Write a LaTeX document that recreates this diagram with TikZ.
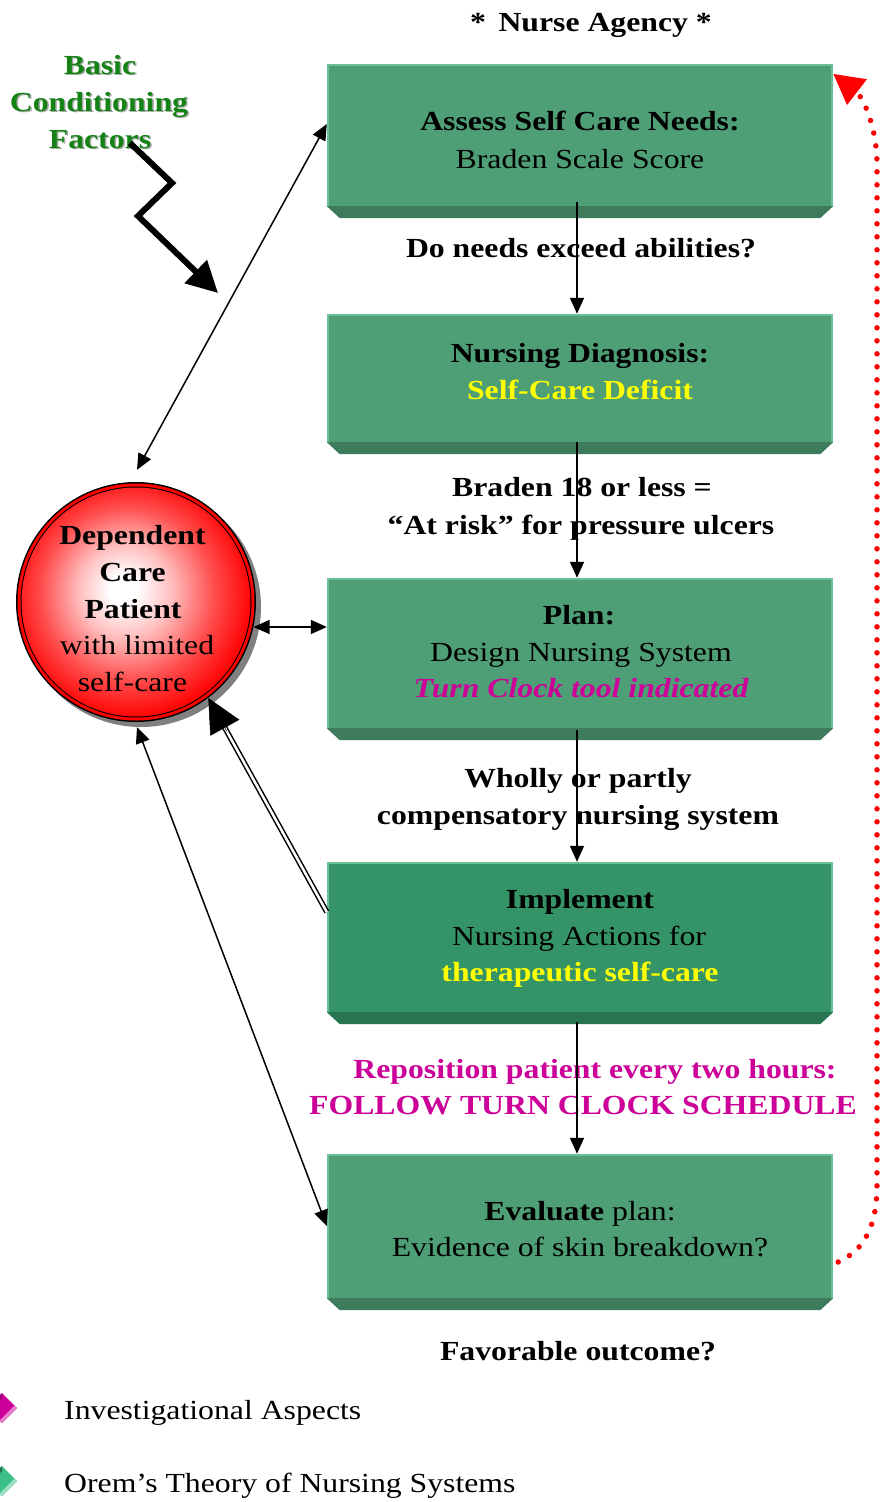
\documentclass[tikz,border=0pt]{standalone}
\usepackage{fontspec}
\setmainfont{Liberation Serif}[FakeStretch=1.15]
\usetikzlibrary{arrows.meta,calc}
\definecolor{faceA}{RGB}{78,158,118}
\definecolor{faceB}{RGB}{52,148,103}
\definecolor{bevA}{RGB}{62,122,92}
\definecolor{bevB}{RGB}{40,116,80}
\definecolor{edgeC}{RGB}{108,192,150}
\definecolor{mag}{RGB}{204,0,153}
\definecolor{yel}{RGB}{255,255,0}
\definecolor{grn}{RGB}{20,130,20}
\definecolor{ringred}{RGB}{255,0,0}
\definecolor{shd}{RGB}{128,128,128}
\definecolor{tshd}{RGB}{170,170,170}
\definecolor{legG}{RGB}{60,190,135}
\pgfdeclareradialshading{redball}{\pgfpoint{-3bp}{3bp}}{color(0bp)=(white); color(3bp)=(white); color(10bp)=(red!25!white); color(19bp)=(red!70!white); color(27bp)=(red); color(50bp)=(red)}
\newcommand\fs{\fontsize{27.6pt}{37pt}\selectfont}
\newcommand\mybevel[2]{%
  \fill[#2] (#1.south west) -- (#1.south east) -- ++(-13,12) -- ($(#1.south west)+(13,12)$) -- cycle;
  \draw[edgeC, line width=2pt] ($(#1.south west)+(1,0)$) -- ($(#1.north west)+(1,1)$) -- ($(#1.north east)+(-1.5,1)$) -- ($(#1.south east)+(-1.5,0)$);}
\begin{document}
\begin{tikzpicture}[x=1pt,y=-1pt,
  gface/.style={fill=faceA, minimum width=506pt, inner sep=0pt, draw=none},
  tx/.style={font=\fs, inner sep=0pt, anchor=base},
  tb/.style={tx, font=\fs\bfseries},
  arr/.style={line width=1.5pt, -{Triangle[length=16pt,width=14pt]}},
  darr/.style={line width=1.5pt, {Triangle[length=16pt,width=14pt]}-{Triangle[length=16pt,width=14pt]}},
  dbl/.style={double, line width=1.5pt, double distance=2.5pt}]
\useasboundingbox (0,0) rectangle (879,1502);
\fill[white] (0,0) rectangle (879,1502);

% boxes
\node[gface, minimum height=142pt] (b1) at (580,135) {};
\node[gface, minimum height=128pt] (b2) at (580,378) {};
\node[gface, minimum height=150pt] (b3) at (580,653) {};
\node[gface, minimum height=150pt, fill=faceB] (b4) at (580,937) {};
\node[gface, minimum height=144pt] (b5) at (580,1226) {};
\mybevel{b1}{bevA}
\mybevel{b2}{bevA}
\mybevel{b3}{bevA}
\mybevel{b4}{bevB}
\mybevel{b5}{bevA}

% circle
\node[circle, minimum size=240pt, inner sep=0pt] (c) at (136,602) {};
\fill[shd] ($(c.center)+(5,5)$) circle[radius=120pt];
\fill[black] (c.center) circle[radius=120pt];
\fill[ringred] (c.center) circle[radius=118.5pt];
\fill[black] (c.center) circle[radius=115.5pt];
\shade[shading=redball] (c.center) circle[radius=114.5pt];

% texts
\node[tb] (na) at (591,31) {*\, Nurse Agency *};
\node[tb, text=tshd] (bs1) at (101.5,75.5) {Basic};
\node[tb, text=tshd] (bs2) at (100.5,112.5) {Conditioning};
\node[tb, text=tshd] (bs3) at (101.5,149.5) {Factors};
\node[tb, text=grn] (bc1) at (100,74) {Basic};
\node[tb, text=grn] (bc2) at (99,111) {Conditioning};
\node[tb, text=grn] (bc3) at (100,148) {Factors};

\node[tb] (t1a) at (580,130) {Assess Self Care Needs:};
\node[tx] (t1b) at (580,168) {Braden Scale Score};
\node[tb] (q1) at (581,257) {Do needs exceed abilities?};
\node[tb] (t2a) at (580,362) {Nursing Diagnosis:};
\node[tb, text=yel] (t2b) at (580,399) {Self-Care Deficit};
\node[tb] (q2a) at (582,496) {Braden 18 or less =};
\node[tb] (q2b) at (581,534) {“At risk” for pressure ulcers};
\node[tb] (t3a) at (579,624) {Plan:};
\node[tx] (t3b) at (581,661) {Design Nursing System};
\node[tx, font=\fs\bfseries\itshape, text=mag] (t3c) at (581,697) {Turn Clock tool indicated};
\node[tb] (q3a) at (578,787) {Wholly or partly};
\node[tb] (q3b) at (578,824) {compensatory nursing system};
\node[tb] (t4a) at (580,908) {Implement};
\node[tx] (t4b) at (579,945) {Nursing Actions for};
\node[tb, text=yel] (t4c) at (580,981) {therapeutic self-care};
\node[tb, text=mag] (q4a) at (595,1078) {Reposition patient every two hours:};
\node[tb, text=mag] (q4b) at (583,1114) {FOLLOW TURN CLOCK SCHEDULE};
\node[tx] (t5a) at (580,1220) {\textbf{Evaluate} plan:};
\node[tx] (t5b) at (580,1256) {Evidence of skin breakdown?};
\node[tb] (q5) at (578,1360) {Favorable outcome?};

\node[tb] (c1) at (132.5,544) {Dependent};
\node[tb] (c2) at (132.5,581) {Care};
\node[tb] (c3) at (133,618) {Patient};
\node[tx] (c4) at (137,654) {with limited};
\node[tx] (c5) at (132.5,691) {self-care};

% vertical arrows
\draw[arr] ($(b1.south)+(-3,-4)$) -- ($(b2.north)+(-3,0)$);
\draw[arr] ($(b2.south)+(-3,0)$) -- ($(b3.north)+(-3,0)$);
\draw[arr] ($(b3.south)+(-3,2)$) -- ($(b4.north)+(-3,0)$);
\draw[arr] ($(b4.south)+(-3,10)$) -- ($(b5.north)+(-3,0)$);

% circle connectors
\coordinate (cn) at ($(c.north)+(1,-12)$);
\draw[darr] (cn) -- ($(b1.west)+(0,-11)$);
\draw[darr] (c.-12) -- (b3.west |- c.-12);
\draw[darr] ($(c.south)+(1,5)$) -- (b5.west);
\coordinate (dt) at (c.-53);
\coordinate (ds) at ($(b4.west)+(0,-25)$);
\draw[dbl, shorten >=30pt] (ds) -- (dt);
\draw[line width=0.5pt, -{Triangle[length=34pt,width=33pt]}] ($(dt)!38pt!(ds)$) -- (dt);

% zigzag
\coordinate (z0) at (130,143);
\coordinate (z1) at (172,183);
\coordinate (z2) at (138,216);
\coordinate (z3) at (218,293);
\draw[line width=6pt, line join=miter, -{Triangle[length=31pt,width=31pt]}] (z0) -- (z1) -- (z2) -- (z3);

% red dotted feedback
\coordinate (r0) at ($(b5.east)+(5,36)$);
\coordinate (r1) at ($(b1.north east)+(0,10)$);
\draw[ringred, line width=5.5pt, line cap=round, dash pattern=on 0pt off 13pt, -{Triangle[length=30pt,width=31pt]}] (r0) .. controls (865,1250) and (877,1225) .. (877,1185) -- (877,165) .. controls (877,125) and (862,96) .. (r1);

% legend
\fill[mag] (2,1393) -- (17,1408) -- (2,1423) -- (-13,1408) -- cycle;
\fill[mag!50!white] (17,1408) -- (2,1423) -- (-0.5,1420.5) -- (14.5,1405.5) -- cycle;
\fill[mag!75!black] (2,1393) -- (-13,1408) -- (-10.5,1410.5) -- (2,1398) -- cycle;
\fill[legG] (2,1466) -- (17,1481) -- (2,1496) -- (-13,1481) -- cycle;
\fill[legG!50!white] (17,1481) -- (2,1496) -- (-0.5,1493.5) -- (14.5,1478.5) -- cycle;
\fill[legG!60!black] (2,1466) -- (-13,1481) -- (-10.5,1483.5) -- (2,1471) -- cycle;
\node[tx, anchor=base west] (l1) at (64,1419) {Investigational Aspects};
\node[tx, anchor=base west] (l2) at (64,1492) {Orem’s Theory of Nursing Systems};
\end{tikzpicture}
\end{document}
